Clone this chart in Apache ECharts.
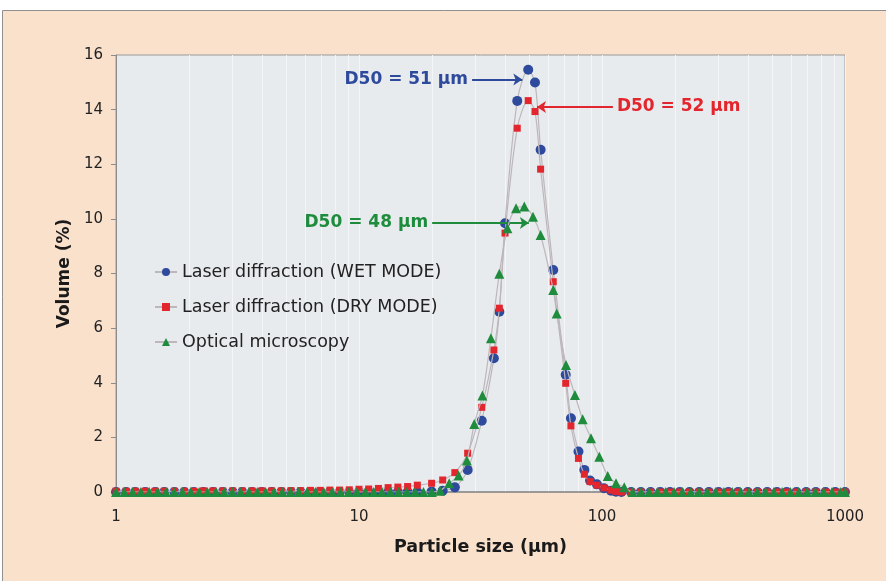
<!DOCTYPE html>
<html>
<head>
<meta charset="utf-8">
<script src="https://cdn.jsdelivr.net/npm/echarts@6/dist/echarts.min.js"></script>
<style>
html,body{margin:0;padding:0;background:#fff;}
#c{width:886px;height:581px;}
</style>
</head>
<body>
<div id="c"></div>
<script>
// ---------- data ----------
var SERIES_NAMES = ['Laser diffraction (WET MODE)', 'Laser diffraction (DRY MODE)', 'Optical microscopy'];

// shared size bins of the two laser diffraction modes (µm)
var laserSize = [1.00,1.10,1.20,1.32,1.45,1.58,1.74,1.91,2.09,2.29,2.51,2.75,3.02,3.31,3.63,3.98,4.37,4.79,5.25,5.75,6.31,6.92,7.59,8.32,9.12,10.0,10.96,12.02,13.18,14.45,15.85,17.38,
  19.9,22.1,24.8,28.0,32.0,35.9,37.8,39.9,44.8,49.7,53.0,55.9,63.0,70.9,74.5,80.0,84.6,89.3,95.3,101.9,108.9,114.2,
  120.2,131.8,144.5,158.5,173.8,190.5,208.9,229.1,251.2,275.4,302.0,331.1,363.1,398.1,436.5,478.6,524.8,575.4,631.0,691.8,758.6,831.8,912.0,1000];

var wetVolume = [0,0,0,0,0,0,0,0,0,0,0,0,0,0,0,0,0,0,0,0,0,0,0,0,0,0,0,0,0,0,0,0,
  0.02,0.05,0.17,0.81,2.61,4.90,6.60,9.84,14.32,15.46,14.99,12.53,8.13,4.29,2.70,1.48,0.81,0.42,0.28,0.14,0.05,0.01,
  0,0,0,0,0,0,0,0,0,0,0,0,0,0,0,0,0,0,0,0,0,0,0,0];

var dryVolume = [0.03,0.03,0.03,0.03,0.03,0.03,0.03,0.03,0.03,0.04,0.04,0.04,0.04,0.04,0.04,0.04,0.04,0.04,0.05,0.05,0.06,0.06,0.07,0.07,0.08,0.10,0.11,0.13,0.16,0.18,0.20,0.25,
  0.32,0.44,0.71,1.42,3.10,5.20,6.73,9.48,13.32,14.33,13.93,11.82,7.70,3.98,2.42,1.23,0.65,0.38,0.25,0.15,0.07,0.02,
  0,0,0,0,0,0,0,0,0,0,0,0,0,0,0,0,0,0,0,0,0,0,0,0];

var opticalSize = [1.00,1.082,1.171,1.266,1.370,1.483,1.604,1.736,1.878,2.032,2.198,2.378,2.573,2.784,3.012,3.258,3.526,3.814,4.127,4.465,4.831,5.226,5.655,6.118,6.619,7.161,7.748,8.383,9.069,9.813,10.62,11.49,12.43,13.45,14.55,15.74,17.03,18.43,19.94,21.57,
  23.5,25.7,27.8,29.8,32.2,34.9,37.8,40.8,44.3,47.9,52.0,55.9,63.0,65.1,71.1,77.4,83.3,90.1,97.5,105.6,114.2,123.5,
  133.6,144.5,156.3,169.1,182.9,198.0,214.1,231.7,250.6,271.2,293.5,317.5,343.6,371.7,402.2,435.1,470.8,509.3,551.1,596.2,645.1,697.9,755.1,816.9,883.9,956.3,1000];

var opticalVolume = [0,0,0,0,0,0,0,0,0,0,0,0,0,0,0,0,0,0,0,0,0,0,0,0,0,0,0,0,0,0,0,0,0,0,0,0,0,0,0,0.05,
  0.32,0.60,1.15,2.49,3.53,5.63,7.99,9.66,10.39,10.45,10.08,9.41,7.40,6.54,4.65,3.55,2.66,1.97,1.29,0.59,0.32,0.17,
  0,0,0,0,0,0,0,0,0,0,0,0,0,0,0,0,0,0,0,0,0,0,0,0,0,0,0];

// D50 annotations: label, y level (%), arrow from / to (µm)
var d50Labels = ['D50 = 51 µm', 'D50 = 52 µm', 'D50 = 48 µm'];
var d50Level  = [15.1, 14.1, 9.85];
var d50From   = [29.2, 54.0, 20.0];
var d50To     = [47.0, 110.9, 50.0];

var X_TICKS = [1, 10, 100, 1000];
var X_TICK_LABELS = ['1', '10', '100', '1000'];
var Y_TICKS = [0, 2, 4, 6, 8, 10, 12, 14, 16];
var MINOR_GRID = [2,3,4,5,6,7,8,9,20,30,40,50,60,70,80,90,200,300,400,500,600,700,800,900];

// ---------- chart ----------
function pairs(xs, ys){ return xs.map(function(x,i){ return [x, ys[i]]; }); }

var FONT = 'DejaVu Sans';
var COLORS = ['#2E4A9C', '#E3262D', '#1E8C3C'];
var LINE_GRAY = '#bdb6bb';

function arrow(i, symbols, labelPos){
  return {
    silent: true,
    animation: false,
    symbol: symbols,
    symbolSize: 9,
    lineStyle: {color: COLORS[i], width: 2, type: 'solid'},
    label: {
      show: true, position: labelPos, formatter: d50Labels[i],
      color: COLORS[i], fontFamily: FONT, fontWeight: 'bold', fontSize: 17, distance: 4
    },
    emphasis: {disabled: true},
    data: [[{coord: [d50From[i], d50Level[i]]}, {coord: [d50To[i], d50Level[i]]}]]
  };
}

var chart = echarts.init(document.getElementById('c'), null, {renderer: 'canvas'});
var option = {
  animation: false,
  backgroundColor: '#ffffff',
  graphic: {
    elements: [{
      type: 'rect', z: -10, silent: true,
      shape: {x: 2.5, y: 10.5, width: 900, height: 600},
      style: {fill: '#F9E1CC', stroke: '#8f8f8f', lineWidth: 1}
    }]
  },
  grid: {
    left: 116, right: 41, top: 55, bottom: 89,
    show: true, backgroundColor: '#E8EBED', borderColor: '#9a9a9a', borderWidth: 1
  },
  legend: {
    data: SERIES_NAMES,
    z: 20,
    orient: 'vertical',
    left: 149, top: 258,
    itemWidth: 22, itemHeight: 10, itemGap: 17,
    textStyle: {fontFamily: FONT, fontSize: 17.5, color: '#222'}
  },
  xAxis: {
    type: 'log', logBase: 10, min: 1, max: 1000,
    name: 'Particle size (µm)', nameLocation: 'middle', nameGap: 46,
    nameTextStyle: {fontFamily: FONT, fontWeight: 'bold', fontSize: 17.5, color: '#1a1a1a'},
    axisLine: {show: true, lineStyle: {color: '#8c8c8c', width: 1.5}},
    axisTick: {show: false},
    axisLabel: {
      margin: 18, fontFamily: FONT, fontSize: 15, color: '#222',
      formatter: function(v){ var k = X_TICKS.indexOf(Math.round(v)); return k >= 0 ? X_TICK_LABELS[k] : ''; }
    },
    splitLine: {show: true, lineStyle: {color: '#f3f5f6', width: 1}}
  },
  yAxis: {
    type: 'value', min: Y_TICKS[0], max: Y_TICKS[Y_TICKS.length - 1], interval: 2,
    name: 'Volume (%)', nameLocation: 'middle', nameGap: 37, nameRotate: 90,
    nameTextStyle: {fontFamily: FONT, fontWeight: 'bold', fontSize: 17, color: '#1a1a1a'},
    axisLine: {show: true, lineStyle: {color: '#8c8c8c'}},
    axisTick: {show: true, inside: false, length: 5, lineStyle: {color: '#8c8c8c'}},
    axisLabel: {margin: 13, fontFamily: FONT, fontSize: 15, color: '#222'},
    splitLine: {show: false}
  },
  series: [
    {
      name: 'gridlines', type: 'line', data: [], z: 0, zlevel: 0, silent: true,
      markLine: {
        silent: true, animation: false, symbol: ['none', 'none'], z: 0,
        label: {show: false},
        lineStyle: {color: '#f3f5f6', width: 1, type: 'solid'},
        emphasis: {disabled: true},
        data: MINOR_GRID.map(function(v){ return {xAxis: v}; })
      }
    },
    {
      name: SERIES_NAMES[0], type: 'line', z: 3,
      data: pairs(laserSize, wetVolume),
      smooth: 0.3,
      symbol: 'circle', symbolSize: 10,
      itemStyle: {color: COLORS[0]},
      lineStyle: {color: LINE_GRAY, width: 1.2},
      markLine: arrow(0, ['none', 'arrow'], 'start')
    },
    {
      name: SERIES_NAMES[1], type: 'line', z: 4,
      data: pairs(laserSize, dryVolume),
      smooth: 0.3,
      symbol: 'rect', symbolSize: 7,
      itemStyle: {color: COLORS[1]},
      lineStyle: {color: LINE_GRAY, width: 1.2},
      markLine: arrow(1, ['arrow', 'none'], 'end')
    },
    {
      name: SERIES_NAMES[2], type: 'line', z: 5,
      data: pairs(opticalSize, opticalVolume),
      smooth: 0.3,
      symbol: 'triangle', symbolSize: 10,
      itemStyle: {color: COLORS[2]},
      lineStyle: {color: LINE_GRAY, width: 1.2},
      markLine: arrow(2, ['none', 'arrow'], 'start')
    }
  ]
};
chart.setOption(option);
</script>
</body>
</html>
